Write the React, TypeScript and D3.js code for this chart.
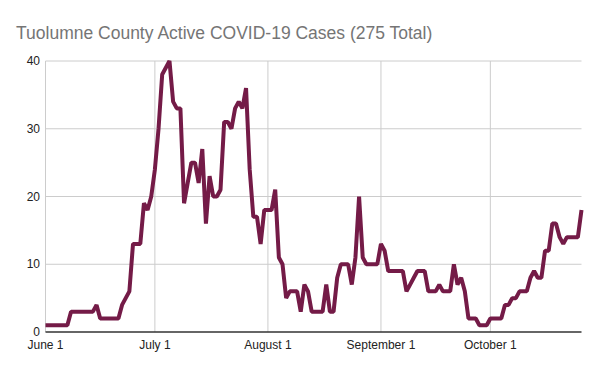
import React from "react";
import * as d3 from "d3";

const title = "Tuolumne County Active COVID-19 Cases (275 Total)";
const startDate = new Date(2020, 5, 1);
const activeCases = [
  1, 1, 1, 1, 1, 1, 1, 3, 3, 3, 3, 3, 3, 3, 4, 2, 2, 2, 2, 2, 2, 4, 5, 6, 13, 13, 13, 19, 18, 20,
  24, 30, 38, 39, 40, 34, 33, 33, 19, 22, 25, 25, 22, 27, 16, 23, 20, 20, 21, 31, 31, 30, 33, 34,
  33, 36, 24, 17, 17, 13, 18, 18, 18, 21, 11, 10, 5, 6, 6, 6, 3, 7, 6, 3, 3, 3, 3, 7, 3, 3,
  8, 10, 10, 10, 7, 11, 20, 11, 10, 10, 10, 10, 13, 12, 9, 9, 9, 9, 9, 6, 7, 8, 9, 9, 9, 6,
  6, 6, 7, 6, 6, 6, 10, 7, 8, 6, 2, 2, 2, 1, 1, 1, 2, 2, 2, 2, 4, 4, 5, 5, 6, 6, 6, 8, 9, 8,
  8, 12, 12, 16, 16, 14, 13, 14, 14, 14, 14, 18,
];
const yTicks = [0, 10, 20, 30, 40];
const xTickDates = [
  new Date(2020, 5, 1),
  new Date(2020, 6, 1),
  new Date(2020, 7, 1),
  new Date(2020, 8, 1),
  new Date(2020, 9, 1),
];
const xTickLabels = ["June 1", "July 1", "August 1", "September 1", "October 1"];

const W = 600;
const H = 371;
const left = 45.5;
const right = 581.5;
const top = 61;
const bottom = 332;

export default function App() {
  const data = activeCases.map((v, i) => ({ date: d3.timeDay.offset(startDate, i), v }));
  const x = d3
    .scaleTime()
    .domain([startDate, data[data.length - 1].date])
    .range([left, right]);
  const y = d3.scaleLinear().domain([0, 40]).range([bottom, top]);
  const line = d3
    .line<{ date: Date; v: number }>()
    .x((d) => x(d.date))
    .y((d) => y(d.v));
  const font = "Arial, 'Liberation Sans', sans-serif";
  return (
    <svg
      width={W}
      height={H}
      style={{ position: "absolute", left: 0, top: 0, background: "#fff" }}
      fontFamily={font}
    >
      <rect width={W} height={H} fill="#fff" />
      <text x={16} y={39} fontSize={17.5} fill="#757575">
        {title}
      </text>
      {yTicks.map((t) =>
        t === 0 ? null : (
          <line key={"gy" + t} x1={left} x2={right} y1={y(t)} y2={y(t)} stroke="#cccccc" strokeWidth={1} />
        )
      )}
      {xTickDates.map((d, i) => (
        <line key={"gx" + i} x1={x(d)} x2={x(d)} y1={top} y2={bottom} stroke="#cccccc" strokeWidth={1} />
      ))}
      {yTicks.map((t) => (
        <text key={"ly" + t} x={40} y={y(t)} dy="0.35em" textAnchor="end" fontSize={12} fill="#222">
          {t}
        </text>
      ))}
      {xTickDates.map((d, i) => (
        <text key={"lx" + i} x={x(d)} y={349} textAnchor="middle" fontSize={12} fill="#222">
          {xTickLabels[i]}
        </text>
      ))}
      <path d={line(data) || ""} fill="none" stroke="#741b47" strokeWidth={4} strokeLinejoin="bevel" />
      <line x1={left} x2={right} y1={bottom} y2={bottom} stroke="#333" strokeWidth={1.5} />
    </svg>
  );
}
